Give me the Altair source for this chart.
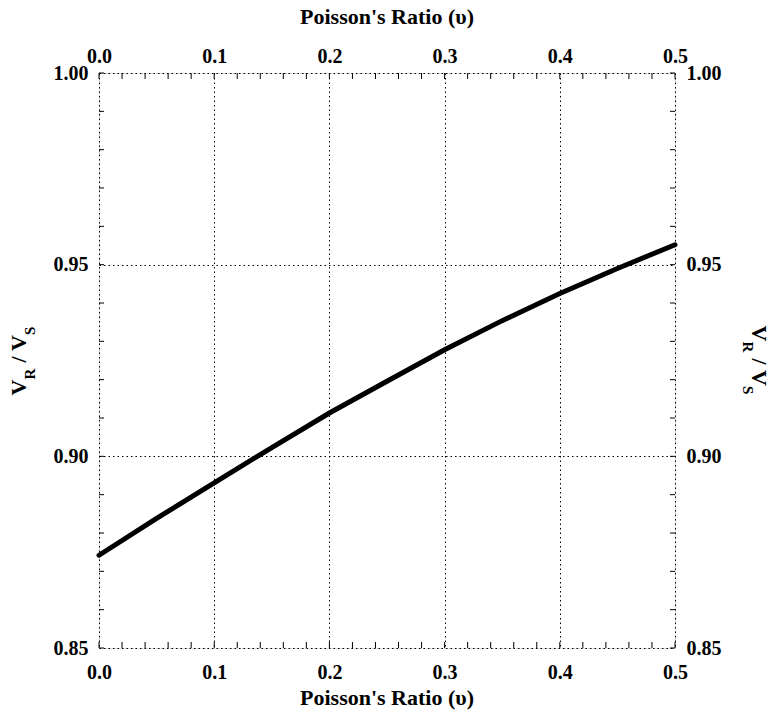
import altair as alt
import pandas as pd

# Rayleigh-to-shear wave velocity ratio against Poisson's ratio
nu = [0.00, 0.05, 0.10, 0.15, 0.20, 0.25, 0.30, 0.35, 0.40, 0.45, 0.50]
vr_vs = [0.8742, 0.8838, 0.8931, 0.9023, 0.9113, 0.9196, 0.9278, 0.9354, 0.9425, 0.9490, 0.9552]

# axis labels and tick positions
x_major = [0.0, 0.1, 0.2, 0.3, 0.4, 0.5]
y_major = [0.85, 0.90, 0.95, 1.00]
x_minor = [0.00, 0.02, 0.04, 0.06, 0.08, 0.10, 0.12, 0.14, 0.16, 0.18, 0.20,
           0.22, 0.24, 0.26, 0.28, 0.30, 0.32, 0.34, 0.36, 0.38, 0.40,
           0.42, 0.44, 0.46, 0.48, 0.50]
y_minor = [0.85, 0.86, 0.87, 0.88, 0.89, 0.90, 0.91, 0.92, 0.93, 0.94,
           0.95, 0.96, 0.97, 0.98, 0.99, 1.00]

x_title = "Poisson's Ratio (υ)"

W, H = 576, 575
FONT = "Liberation Serif"
LABEL_SIZE = 20
TITLE_SIZE = 22
SUB_SIZE = 15

sx = alt.Scale(domain=[0.0, 0.5], nice=False, zero=False)
sy = alt.Scale(domain=[0.85, 1.00], nice=False, zero=False)

df = pd.DataFrame({"nu": nu, "ratio": vr_vs})

label_style = dict(
    labelFont=FONT, labelFontSize=LABEL_SIZE, labelFontWeight="bold",
    labelColor="black", labelFlush=False, labelOverlap=False,
    domain=False, ticks=False, title=None,
)

grid_style = dict(grid=True, gridColor="black", gridWidth=1, gridDash=[1.5, 3])

curve = alt.Chart(df).mark_line(color="black", strokeWidth=5, strokeCap="round").encode(
    x=alt.X("nu:Q", scale=sx,
            axis=alt.Axis(orient="bottom", values=x_major, format=".1f",
                          labelPadding=14, labelBaseline="top", **grid_style, **label_style)),
    y=alt.Y("ratio:Q", scale=sy,
            axis=alt.Axis(orient="left", values=y_major, format=".2f",
                          labelPadding=11, **grid_style, **label_style)),
)

mirror = alt.Chart(df).mark_line(opacity=0).encode(
    x=alt.X("nu:Q", scale=sx,
            axis=alt.Axis(orient="top", values=x_major, format=".1f", grid=False,
                          labelPadding=7, **label_style)),
    y=alt.Y("ratio:Q", scale=sy,
            axis=alt.Axis(orient="right", values=y_major, format=".2f", grid=False,
                          labelPadding=11, **label_style)),
)

xt = pd.DataFrame({"t": x_minor})
yt = pd.DataFrame({"t": y_minor})
tick = dict(color="black", strokeWidth=1)

ticks_bottom = alt.Chart(xt).mark_rule(**tick).encode(
    x=alt.X("t:Q", scale=sx, axis=None), y=alt.value(H), y2=alt.value(H - 6))
ticks_top = alt.Chart(xt).mark_rule(**tick).encode(
    x=alt.X("t:Q", scale=sx, axis=None), y=alt.value(0), y2=alt.value(6))
ticks_left = alt.Chart(yt).mark_rule(**tick).encode(
    y=alt.Y("t:Q", scale=sy, axis=None), x=alt.value(0), x2=alt.value(5))
ticks_right = alt.Chart(yt).mark_rule(**tick).encode(
    y=alt.Y("t:Q", scale=sy, axis=None), x=alt.value(W), x2=alt.value(W - 5))

one = pd.DataFrame({"k": [0]})
txt = dict(font=FONT, fontWeight="bold", color="black")


def label(text, x, y, size, **kw):
    return alt.Chart(one).mark_text(text=text, fontSize=size, **txt, **kw).encode(
        x=alt.value(x), y=alt.value(y))


titles = [
    label(x_title, W / 2, -49, TITLE_SIZE, align="center", baseline="alphabetic"),
    label(x_title, W / 2, H + 57, TITLE_SIZE, align="center", baseline="alphabetic"),
]

# V_R / V_S written upward on the left and downward on the right
pieces = [("V", -35, 0, TITLE_SIZE), ("R", -19, 9, SUB_SIZE),
          ("/", -2, 0, TITLE_SIZE), ("V", 9.5, 0, TITLE_SIZE), ("S", 25.5, 9, SUB_SIZE)]
for s, dx, dy, size in pieces:
    titles.append(label(s, -73, H / 2, size, angle=270, align="left",
                        baseline="alphabetic", dx=dx, dy=dy))
    titles.append(label(s, W + 77, H / 2, size, angle=90, align="left",
                        baseline="alphabetic", dx=dx, dy=dy))

chart = alt.layer(
    curve, mirror, ticks_bottom, ticks_top, ticks_left, ticks_right, *titles
).resolve_axis(x="independent", y="independent").properties(
    width=W, height=H,
    autosize=alt.AutoSizeParams(type="none"),
    padding={"left": 99, "top": 73, "right": 96, "bottom": 75},
).configure_view(stroke="black", strokeWidth=1.2).configure(background="white")

chart.save("out.html", embed_options={"renderer": "svg", "actions": False})
